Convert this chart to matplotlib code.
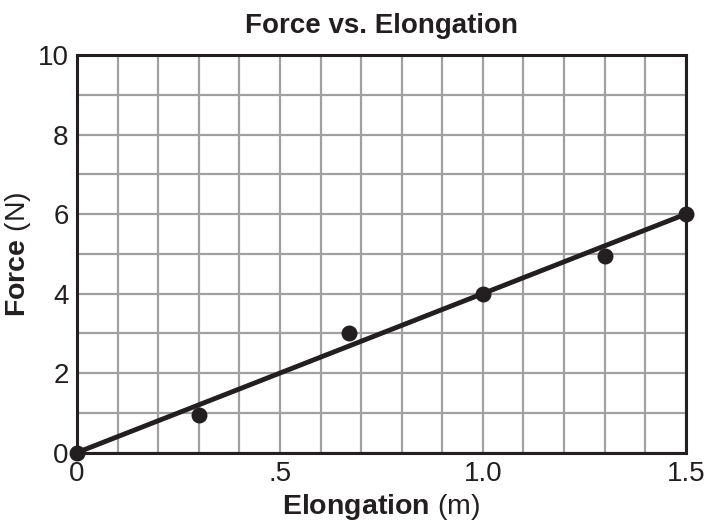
#importing libraries
import numpy as np
import matplotlib
matplotlib.use("Agg")
import matplotlib.pyplot as plt

#data
elongation = [0, 0.3, 0.67, 1.0, 1.3, 1.5]
force = [0, 0.95, 3.0, 4.0, 4.95, 6.0]
fit_x = [0, 1.5]
fit_y = [0, 6.0]
xtick_vals = [0, 0.5, 1.0, 1.5]
xtick_labels = ["0", ".5", "1.0", "1.5"]
ytick_vals = [0, 2, 4, 6, 8, 10]

#fonts
plt.rcParams['font.family'] = ['Liberation Sans', 'DejaVu Sans']
plt.rcParams['mathtext.fontset'] = 'custom'
plt.rcParams['mathtext.rm'] = 'Liberation Sans'
plt.rcParams['mathtext.bf'] = 'Liberation Sans:bold'

fig = plt.figure(figsize=(7.07, 5.25), dpi=100)
ax = fig.add_axes([0.109, 0.138, 0.861, 0.757])

#grid (major + minor so every 0.1 / 1 line shows)
ax.set_xticks(np.arange(0, 1.51, 0.1), minor=True)
ax.set_yticks(np.arange(0, 10.1, 1), minor=True)
ax.grid(which='both', color='#a0a0a0', linewidth=1.6)
ax.set_axisbelow(True)

#line and points
ax.plot(fit_x, fit_y, color='#231f20', linewidth=3.5, solid_capstyle='butt', zorder=3)
ax.scatter(elongation, force, s=110, color='#231f20', zorder=4, clip_on=False)

ax.set_xlim(0, 1.5)
ax.set_ylim(0, 10)
ax.set_xticks(xtick_vals)
ax.set_xticklabels(xtick_labels)
ax.set_yticks(ytick_vals)
ax.tick_params(which='both', length=0, labelsize=20, colors='#231f20', pad=6)
for s in ax.spines.values():
    s.set_linewidth(2.2)
    s.set_color('#231f20')

ax.set_title("Force vs. Elongation", fontsize=20, fontweight='bold', color='#231f20', pad=16)
ax.set_xlabel(r"$\mathbf{Elongation}$ (m)", fontsize=20.5, color='#231f20', labelpad=4)
ax.set_ylabel(r"$\mathbf{Force}$ (N)", fontsize=20.5, color='#231f20')
ax.yaxis.set_label_coords(-0.072, 0.5)

fig.savefig("out.png", dpi=100)
